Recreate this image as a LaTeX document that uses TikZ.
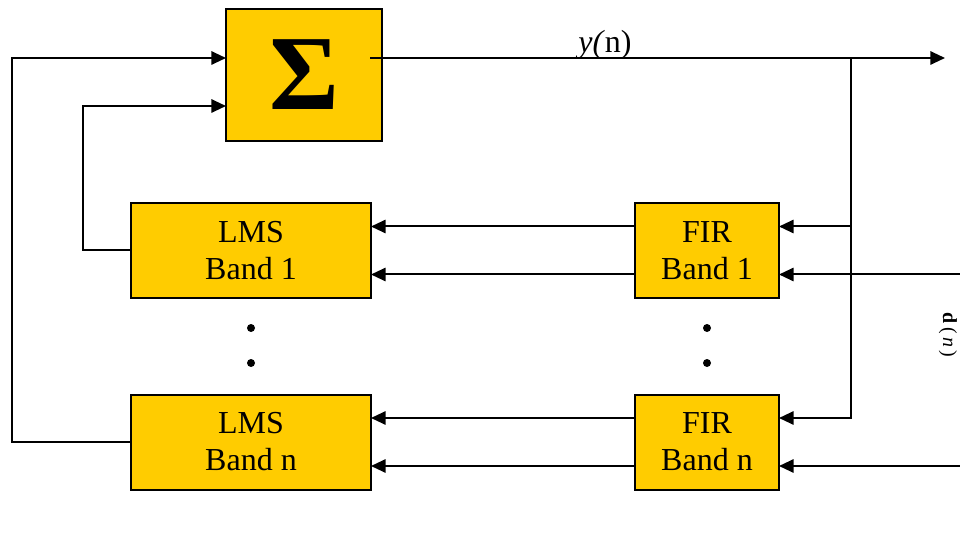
\documentclass[tikz,border=0pt]{standalone}
\usepackage{fontspec}
\setmainfont{Liberation Serif}
\usepackage{xcolor}
\usetikzlibrary{arrows.meta,calc}
\definecolor{bandgold}{RGB}{255,204,0}

\begin{document}
\begin{tikzpicture}[x=0.75pt,y=-0.75pt,inner sep=0,outer sep=0,
    font=\fontsize{24}{27.75}\selectfont,
    block/.style={draw=black,fill=bandgold,line width=1.5pt,align=center},
    wire/.style={draw=black,line width=1.5pt},
    link/.style={wire,-{Triangle[length=11pt,width=10pt]}}]

    \useasboundingbox (0,0) rectangle (960,538);

    % The summing block
    \node[block,minimum width=117pt,minimum height=99pt] (sum) at (304,75)
        {\fontsize{80}{80}\selectfont\bfseries Σ};

    % LMS and FIR blocks
    \node[block,minimum width=180pt,minimum height=71.25pt] (lms1) at (251,250.5) {LMS\\Band 1};
    \node[block,minimum width=180pt,minimum height=71.25pt] (lmsn) at (251,442) {LMS\\Band n};
    \node[block,minimum width=108pt,minimum height=71.25pt] (fir1) at (707,250.5) {FIR\\Band 1};
    \node[block,minimum width=108pt,minimum height=71.25pt] (firn) at (707,442) {FIR\\Band n};

    % Dots between the bands
    \foreach \x in {251,707}
      \foreach \y in {328,363}
        \fill (\x,\y) circle (3pt);

    % Output y(n)
    \coordinate (out) at (945,58);
    \coordinate (tap) at (851,58);
    \draw[link] ($(sum.east)+(-12,-17)$) -- (out);
    \node[anchor=base] (ylab) at (605,53) {\textit{y(}n)};

    % Feed of y(n) into the FIR blocks
    \draw[link] (tap) |- ($(fir1.east)+(0,-24)$);
    \draw[link] (tap) |- ($(firn.east)+(0,-24)$);

    % Desired signal d(n)
    \coordinate (din1) at (960,274.5);
    \coordinate (dinn) at (960,466);
    \draw[link] (din1) -- (fir1.east |- din1);
    \draw[link] (dinn) -- (firn.east |- dinn);
    \node[rotate=-90,font=\fontsize{15}{15}\selectfont] (dlab) at (948,335)
        {\textbf{d}\kern2.5pt(\kern2.5pt\textit{n}\kern2.5pt)};

    % FIR to LMS
    \draw[link] ($(fir1.west)+(0,-24)$) -- ($(lms1.east)+(0,-24)$);
    \draw[link] ($(fir1.west)+(0,24)$) -- ($(lms1.east)+(0,24)$);
    \draw[link] ($(firn.west)+(0,-24)$) -- ($(lmsn.east)+(0,-24)$);
    \draw[link] ($(firn.west)+(0,24)$) -- ($(lmsn.east)+(0,24)$);

    % LMS back to the sum
    \draw[link] (lms1.west) -- ++(-48,0) |- ($(sum.west)+(0,31)$);
    \draw[link] (lmsn.west) -- ++(-119,0) |- ($(sum.west)+(0,-17)$);

\end{tikzpicture}
\end{document}
